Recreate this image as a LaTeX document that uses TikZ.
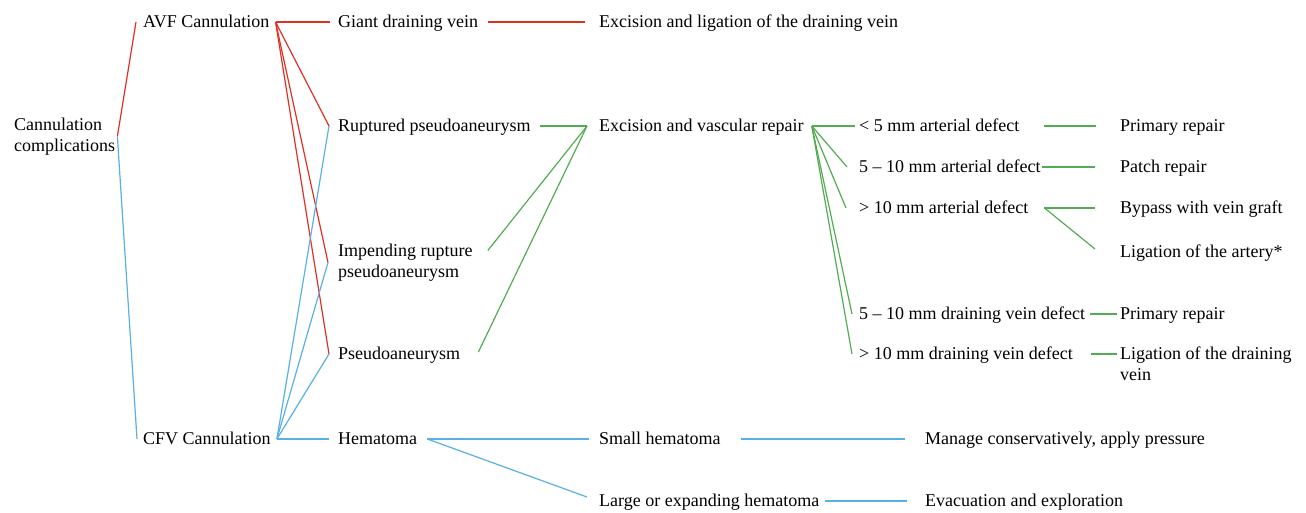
\documentclass[tikz,border=0pt]{standalone}
\usepackage{fontspec}
\setmainfont{Liberation Serif}
\usetikzlibrary{positioning}
\definecolor{avfred}{RGB}{224,48,36}
\definecolor{cfvblue}{RGB}{88,176,228}
\definecolor{repgreen}{RGB}{82,172,82}
\begin{document}
\begin{tikzpicture}[x=1pt,y=-1pt,
    every node/.style={font=\fontsize{18}{20.5}\selectfont, inner sep=0pt, anchor=base west},
    lbl/.style={text height=13.5pt, text depth=3.5pt},
    lbltwo/.style={align=left},
    redline/.style={draw=avfred, line width=1.2pt},
    blueline/.style={draw=cfvblue, line width=1.2pt},
    greenline/.style={draw=repgreen, line width=1.2pt}]
    \useasboundingbox (0,0) rectangle (1306,512);
    \node[lbltwo] (cc) at (14,151) {Cannulation\\complications};
    \node[lbl] (avf) at (143,27) {AVF Cannulation};
    \node[lbl] (cfv) at (143,444) {CFV Cannulation};
    \node[lbl] (gdv) at (338,27) {Giant draining vein};
    \node[lbl] (rup) at (338,131) {Ruptured pseudoaneurysm};
    \node[lbltwo] (imp) at (338,277) {Impending rupture\\pseudoaneurysm};
    \node[lbl] (pse) at (338,359) {Pseudoaneurysm};
    \node[lbl] (hem) at (338,444) {Hematoma};
    \node[lbl] (exl) at (599,27) {Excision and ligation of the draining vein};
    \node[lbl] (evr) at (599,131) {Excision and vascular repair};
    \node[lbl] (sml) at (599,444) {Small hematoma};
    \node[lbl] (lrg) at (599,506) {Large or expanding hematoma};
    \node[lbl] (a5) at (859,131) {< 5 mm arterial defect};
    \node[lbl] (a10) at (859,172) {5 -- 10 mm arterial defect};
    \node[lbl] (a11) at (859,213) {> 10 mm arterial defect};
    \node[lbl] (v10) at (859,319) {5 -- 10 mm draining vein defect};
    \node[lbl] (v11) at (859,359) {> 10 mm draining vein defect};
    \node[lbl] (pr1) at (1120,131) {Primary repair};
    \node[lbl] (pat) at (1120,172) {Patch repair};
    \node[lbl] (byp) at (1120,213) {Bypass with vein graft};
    \node[lbl] (lia) at (1120,257) {Ligation of the artery*};
    \node[lbl] (pr2) at (1120,319) {Primary repair};
    \node[lbltwo] (lgv) at (1120,380) {Ligation of the draining\\vein};
    \node[lbl] (mcp) at (925,444) {Manage conservatively, apply pressure};
    \node[lbl] (evc) at (925,506) {Evacuation and exploration};
    \draw[redline] ([xshift=2]cc.east) -- ([xshift=-7]avf.west);
    \draw[redline] ([xshift=6]avf.east) -- ([xshift=-8]gdv.west);
    \draw[redline] ([xshift=6]avf.east) -- ([xshift=-9]rup.west);
    \draw[redline] ([xshift=6]avf.east) -- ([xshift=-10]imp.west);
    \draw[redline] ([xshift=6]avf.east) -- ([xshift=-9]pse.west);
    \draw[redline] ([xshift=10]gdv.east) -- ([xshift=-14]exl.west);
    \draw[blueline] ([xshift=2]cc.east) -- ([xshift=-6]cfv.west);
    \draw[blueline] ([xshift=6]cfv.east) -- ([xshift=-9]rup.west);
    \draw[blueline] ([xshift=6]cfv.east) -- ([xshift=-10]imp.west);
    \draw[blueline] ([xshift=6]cfv.east) -- ([xshift=-9]pse.west);
    \draw[blueline] ([xshift=6]cfv.east) -- ([xshift=-9]hem.west);
    \draw[blueline] ([xshift=10]hem.east) -- ([xshift=-10]sml.west);
    \draw[blueline] ([xshift=10]hem.east) -- ([xshift=-12,yshift=4]lrg.west);
    \draw[blueline] ([xshift=20]sml.east) -- ([xshift=-20]mcp.west);
    \draw[blueline] ([xshift=6]lrg.east) -- ([xshift=-18]evc.west);
    \draw[greenline] ([xshift=9]rup.east) -- ([xshift=-12]evr.west);
    \draw[greenline] ([xshift=15,yshift=12]imp.east) -- ([xshift=-12]evr.west);
    \draw[greenline] ([xshift=18,yshift=2]pse.east) -- ([xshift=-12]evr.west);
    \draw[greenline] ([xshift=8]evr.east) -- ([xshift=-4]a5.west);
    \draw[greenline] ([xshift=8]evr.east) -- ([xshift=-12]a10.west);
    \draw[greenline] ([xshift=8]evr.east) -- ([xshift=-13]a11.west);
    \draw[greenline] ([xshift=8]evr.east) -- ([xshift=-7]v10.west);
    \draw[greenline] ([xshift=8]evr.east) -- ([xshift=-7]v11.west);
    \draw[greenline] ([xshift=25]a5.east) -- ([xshift=-24]pr1.west);
    \draw[greenline] ([xshift=1]a10.east) -- ([xshift=-25]pat.west);
    \draw[greenline] ([xshift=16]a11.east) -- ([xshift=-25]byp.west);
    \draw[greenline] ([xshift=16]a11.east) -- ([xshift=-25,yshift=3]lia.west);
    \draw[greenline] ([xshift=5]v10.east) -- ([xshift=-3]pr2.west);
    \draw[greenline] ([xshift=18]v11.east) -- ([xshift=-3,yshift=26]lgv.base west);
\end{tikzpicture}
\end{document}
